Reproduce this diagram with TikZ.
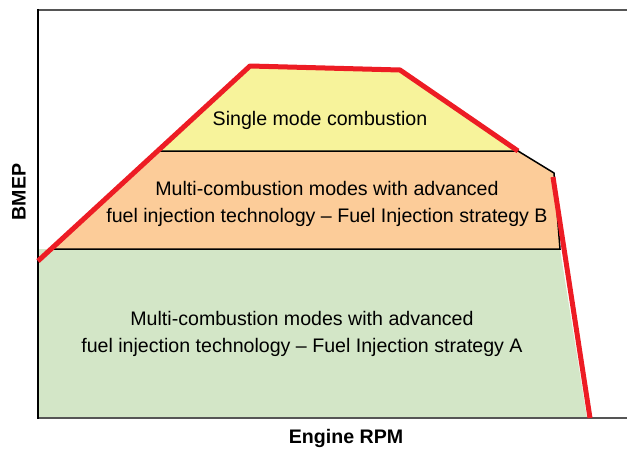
\documentclass[tikz,border=0pt]{standalone}
\usepackage{fontspec}
\setmainfont{Liberation Sans}
\usetikzlibrary{positioning}

\definecolor{zoneA}{RGB}{211,230,199}
\definecolor{zoneB}{RGB}{252,204,153}
\definecolor{zoneS}{RGB}{247,243,155}
\definecolor{limit}{RGB}{237,28,36}
\definecolor{axisgray}{RGB}{85,85,85}

\begin{document}
\begin{tikzpicture}[
    x=1pt, y=-1pt,
    every node/.style = {font=\fontsize{19.6}{27}\selectfont},
    zone/.style     = {draw=black, line width=1.5pt, line join=miter},
    label/.style    = {align=center, inner sep=0pt},
    axislabel/.style= {font=\fontsize{19.6}{23}\selectfont\bfseries, inner sep=0pt},
    limitline/.style= {draw=limit, line width=5pt, line join=round}
]
\useasboundingbox (0,0) rectangle (627,452);

% operating zones
\fill[zoneA] (38,249) -- (560,249) -- (587,418) -- (38,418) -- cycle;
\filldraw[zone, fill=zoneB] (53,249) -- (157,151) -- (518,151) -- (554,173)
    -- (560,249) -- cycle;
\filldraw[zone, fill=zoneS] (157,151) -- (250,67) -- (400,71) -- (518,151) -- cycle;

% frame
\draw[axisgray, line width=2pt] (38,10) -- (627,10);
\draw[axisgray, line width=2pt] (38,418) -- (627,418);
\draw[black, line width=2pt] (38,9) -- (38,419);

% full load limit
\draw[limitline] (38,261) -- (250,66) -- (400,70) -- (518,151);
\draw[limitline] (553,177) -- (590,418);

\node[label] (single) at (320,120) {Single mode combustion};
\node[label] (stratB) at (327,204)
    {Multi-combustion modes with advanced\\fuel injection technology – Fuel Injection strategy B};
\node[label] (stratA) at (302,334)
    {Multi-combustion modes with advanced\\fuel injection technology – Fuel Injection strategy A};

\node[axislabel, rotate=90] (ylab) at (19,192) {BMEP};
\node[axislabel] (xlab) at (346,438) {Engine RPM};
\end{tikzpicture}
\end{document}
